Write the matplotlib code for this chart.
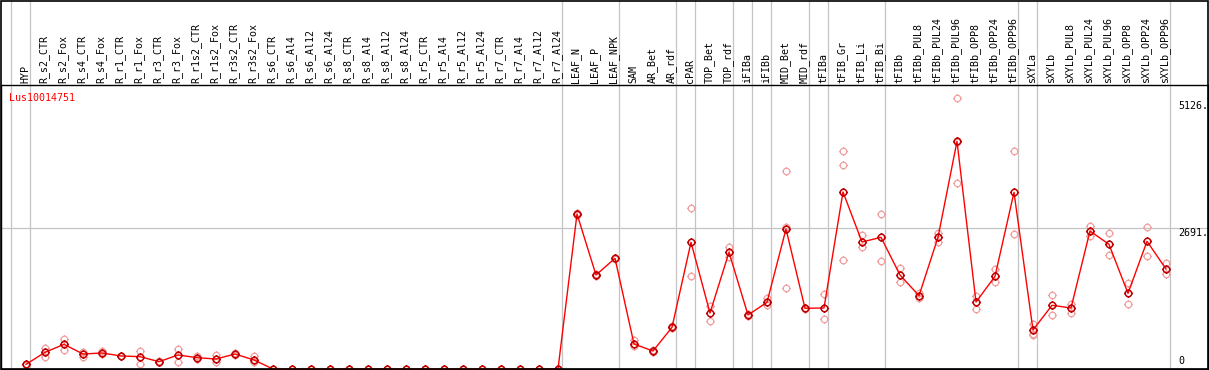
# expression profile plot for one gene, means + replicates
import matplotlib
matplotlib.use("Agg")
import matplotlib.pyplot as plt
import matplotlib.transforms as mtransforms
from matplotlib.path import Path
from matplotlib.patches import Rectangle
import numpy as np

gene = "Lus10014751"

labels = ["HYP", "R_s2_CTR", "R_s2_Fox", "R_s4_CTR", "R_s4_Fox", "R_r1_CTR", "R_r1_Fox",
          "R_r3_CTR", "R_r3_Fox", "R_r1s2_CTR", "R_r1s2_Fox", "R_r3s2_CTR", "R_r3s2_Fox",
          "R_s6_CTR", "R_s6_Al4", "R_s6_Al12", "R_s6_Al24", "R_s8_CTR", "R_s8_Al4", "R_s8_Al12",
          "R_s8_Al24", "R_r5_CTR", "R_r5_Al4", "R_r5_Al12", "R_r5_Al24", "R_r7_CTR", "R_r7_Al4",
          "R_r7_Al12", "R_r7_Al24", "LEAF_N", "LEAF_P", "LEAF_NPK", "SAM", "AR_Bet", "AR_rdf",
          "cPAR", "TOP_Bet", "TOP_rdf", "iFIBa", "iFIBb", "MID_Bet", "MID_rdf", "tFIBa",
          "tFIB_Gr", "tFIB_Li", "tFIB_Bi", "tFIBb", "tFIBb_PUL8", "tFIBb_PUL24", "tFIBb_PUL96",
          "tFIBb_OPP8", "tFIBb_OPP24", "tFIBb_OPP96", "sXYLa", "sXYLb", "sXYLb_PUL8",
          "sXYLb_PUL24", "sXYLb_PUL96", "sXYLb_OPP8", "sXYLb_OPP24", "sXYLb_OPP96"]

# first sample of every group (gray separators)
group_starts = [0, 1, 29, 32, 35, 36, 38, 39, 40, 42, 43, 46, 53, 54, 61]

means = [89, 319, 472, 287, 306, 249, 236, 140, 268, 217, 191, 287, 172,
         0, 0, 0, 0, 0, 0, 0, 0, 0, 0, 0, 0, 0, 0, 0, 0,
         2964, 1798, 2117, 478, 344, 797, 2423, 1071, 2232, 1033, 1275, 2677, 1161, 1167,
         3385, 2429, 2518, 1798, 1402, 2518, 4354, 1281, 1772, 3379, 746, 1218, 1167,
         2639, 2384, 1447, 2442, 1912]

rep_a = [105, 408, 574, 319, 340, 258, 344, 148, 376, 240, 261, 300, 249,
         0, 0, 0, 0, 0, 0, 0, 0, 0, 0, 0, 0, 0, 0, 0, 0,
         2990, 1815, 2130, 555, 355, 815, 3073, 1211, 2339, 1050, 1352, 3781, 1175, 1428,
         4163, 2557, 2964, 1937, 1447, 2595, 5177, 1396, 1912, 4163, 855, 1409, 1243,
         2735, 2595, 1645, 2716, 2021]

rep_b = [75, 236, 363, 236, 280, 240, 89, 130, 140, 195, 140, 275, 127,
         0, 0, 0, 0, 0, 0, 0, 0, 0, 0, 0, 0, 0, 0, 0, 0,
         2940, 1780, 2100, 440, 330, 780, 1779, 924, 2136, 1020, 1220, 1543, 1150, 950,
         2085, 2339, 2065, 1658, 1352, 2423, 3551, 1142, 1658, 2582, 669, 1027, 1077,
         2544, 2174, 1243, 2155, 1811]

extra_idx = [40, 43, 49, 53]
extra_val = [2707, 3901, 4334, 650]

ytick_vals = [5126, 2691, 0]
ytick_txt = ["5126.", "2691.", "0"]

W, H = 1209, 370
fig = plt.figure(figsize=(W / 100, H / 100), dpi=100)
# plot area: x 1..1208 px, y 85..369 px (from top)
ax = fig.add_axes([1 / W, 1 / H, 1207 / W, 284 / H])
ax.set_xlim(-25 / 19, 1182 / 19)
ax.set_ylim(0, 5431)
ax.set_xticks([])
ax.set_yticks([])
for s in ax.spines.values():
    s.set_linewidth(1.0)
    s.set_color("black")

# outer frame incl. header
fig.patches.append(Rectangle((1 / W, 1 / H), 1207 / W, 368.5 / H, transform=fig.transFigure,
                             fill=False, edgecolor="black", linewidth=1.2))

x = np.arange(len(labels))

for g in group_starts:
    ax.axvline(g - 0.79, ymin=0, ymax=369 / 284, color="#c4c4c4", lw=0.9, clip_on=False, zorder=1)
ax.axhline(2691, color="#c4c4c4", lw=0.9, zorder=1)

# circle marker with small ticks
tick_v = [(0, 1), (0, 1.35), (0, -1), (0, -1.35), (1, 0), (1.35, 0), (-1, 0), (-1.35, 0)]
tick_c = [Path.MOVETO, Path.LINETO] * 4
mark = Path.make_compound_path(Path.unit_circle(), Path(tick_v, tick_c))

for rep in (rep_a, rep_b):
    ax.plot(x, rep, ls="none", marker=mark, ms=6.3, mfc="none", mec="#f0a0a0", mew=0.9,
            zorder=2, clip_on=False)
ax.plot(extra_idx, extra_val, ls="none", marker=mark, ms=6.3, mfc="none", mec="#f0a0a0",
        mew=0.9, zorder=2, clip_on=False)

ax.plot(x, means, color="red", lw=1.0, zorder=3, clip_on=False)
ax.plot(x, means, ls="none", marker=mark, ms=6.3, mfc="none", mec="#c00000", mew=1.1,
        zorder=4, clip_on=False)

mono = "DejaVu Sans Mono"
# sample labels in the header
hdr = mtransforms.offset_copy(ax.get_xaxis_transform(), fig=fig, x=-0.7, y=1.6, units="points")
for i, lab in enumerate(labels):
    ax.text(i, 1.0, lab, transform=hdr, rotation=90, ha="center", va="bottom",
            fontsize=7.2, family=mono, color="black")

fig.text(9 / W, (H - 98) / H, gene, color="red", fontsize=7.2, family=mono, ha="left", va="center")

ylab = ax.get_yaxis_transform()
ax.text(1177 / 1207, 5126, ytick_txt[0], transform=ylab, ha="left", va="top", fontsize=7.2, family=mono)
ax.text(1177 / 1207, 2691, ytick_txt[1], transform=ylab, ha="left", va="top", fontsize=7.2, family=mono)
ax.text(1177 / 1207, 60, ytick_txt[2], transform=ylab, ha="left", va="bottom", fontsize=7.2, family=mono)

fig.savefig("out.png", dpi=100)
